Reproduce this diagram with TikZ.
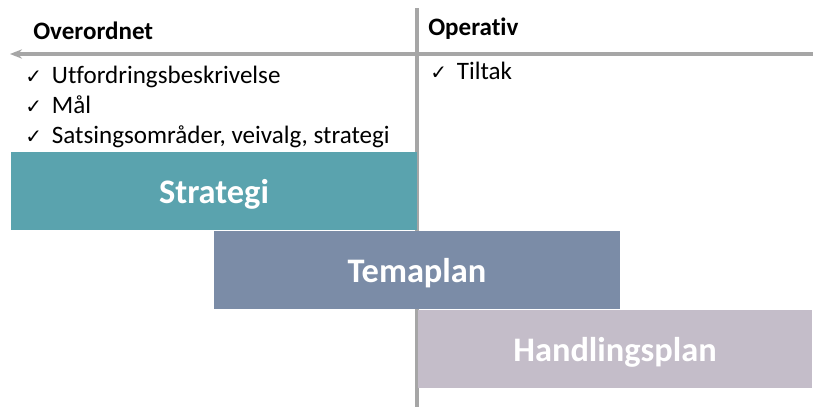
\documentclass[tikz,border=0pt]{standalone}
\usepackage{fontspec}
\setmainfont{Carlito}[Ligatures={NoCommon,NoRequired,NoContextual}]
\newfontfamily\symfont{DejaVu Sans}
\usetikzlibrary{arrows.meta}
\definecolor{axisgray}{HTML}{A6A6A6}
\definecolor{strategicol}{HTML}{5AA3AE}
\definecolor{temacol}{HTML}{7B8CA7}
\definecolor{handlingcol}{HTML}{C4BDC9}
\newcommand{\tick}{\makebox[20pt][l]{\symfont\fontsize{15}{17}\selectfont ✓}}

\begin{document}
\begin{tikzpicture}[x=0.75pt,y=-0.75pt,
  axis/.style={draw=axisgray,line width=2.4pt},
  head/.style={anchor=base west,inner sep=0pt,font=\fontsize{18.8}{22}\selectfont\bfseries},
  item/.style={anchor=base west,inner sep=0pt,font=\fontsize{18.8}{22}\selectfont},
  plan/.style={rectangle,inner sep=0pt,minimum height=58.5pt,text depth=0pt,text=white,font=\fontsize{25.8}{30}\selectfont\bfseries}]
  \useasboundingbox (0,0) rectangle (813,407);

  \coordinate (lefttip) at (10,54);
  \coordinate (rightend) at (813,54);
  \coordinate (top) at (417,8);
  \coordinate (bottom) at (417,407);

  \draw[axis,-{Stealth[length=9pt,width=7pt]}] (rightend) -- (lefttip);
  \draw[axis] (top) -- (bottom);

  \node [head] (over) at (33,39) {Overordnet};
  \node [head] (oper) at (428,36) {Operativ};

  \node [item] (utf) at (25,83) {\tick Utfordringsbeskrivelse};
  \node [item] (maal) at (25,113) {\tick Mål};
  \node [item] (sats) at (25,143) {\tick Satsingsområder, veivalg, strategi};
  \node [item] (tiltak) at (430,79) {\tick Tiltak};

  \node [plan,fill=strategicol,minimum width=304.5pt] (strategi) at (214,191) {Strategi};
  \node [plan,fill=temacol,minimum width=304.5pt] (temaplan) at (417,270) {Temaplan};
  \node [plan,fill=handlingcol,minimum width=295.5pt] (handling) at (615,349) {Handlingsplan};

\end{tikzpicture}
\end{document}
